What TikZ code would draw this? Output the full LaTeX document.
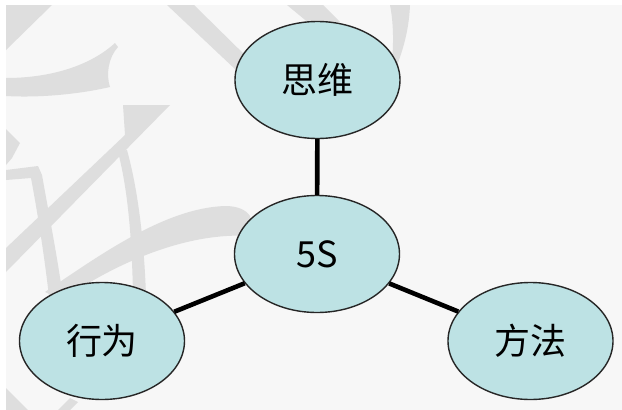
\documentclass[tikz,border=0pt]{standalone}
\usepackage{fontspec}
\setmainfont{Noto Sans CJK SC}
\usetikzlibrary{shapes.geometric}
\definecolor{bgc}{HTML}{F7F7F7}
\definecolor{strk}{HTML}{DEDEDE}
\definecolor{ellc}{HTML}{BDE2E4}
\begin{document}
\begin{tikzpicture}[x=1pt,y=-1pt,
  bub/.style={ellipse, draw=black!85, line width=1.4pt, fill=ellc,
    minimum width=165pt, minimum height=117pt, inner sep=0pt,
    font=\fontsize{36}{40}\selectfont},
  link/.style={line width=4.6pt, draw=black},
  brush/.style={fill=strk}]
\useasboundingbox (0,0) rectangle (622,410);
\fill[white] (0,0) rectangle (622,410);
\fill[bgc] (6,5) rectangle (622,410);
\begin{scope}
\clip (6,5) rectangle (622,410);
\fill[brush] (6,5) -- (52,5) -- (6,50) -- cycle;
\fill[brush] (6,78) .. controls (50,78) and (90,66) .. (115,43) -- (118,47) .. controls (108,58) and (106,75) .. (110,87) .. controls (80,94) and (40,98) .. (6,96) -- cycle;
\fill[brush] (123,105) -- (170,105) -- (6,272) -- (6,248) -- (125,135) -- cycle;
\fill[brush] (6,129) -- (20,143) -- (12,158) -- (6,165) -- cycle;
\fill[brush] (6,170) -- (38,166) -- (42,175) .. controls (50,220) and (58,260) .. (64,305) -- (50,305) .. controls (45,260) and (38,215) .. (31,178) -- (6,180) -- cycle;
\fill[brush] (118,152) -- (127,150) .. controls (138,190) and (144,240) .. (146,295) -- (133,295) .. controls (132,240) and (128,190) .. (118,152) -- cycle;
\fill[brush] (45,292) .. controls (100,255) and (165,208) .. (225,206) .. controls (238,206) and (246,210) .. (250,216) -- (250,236) .. controls (190,232) and (120,260) .. (62,300) -- cycle;
\fill[brush] (167,5) -- (194,5) -- (252,62) -- (236,70) -- cycle;
\fill[brush] (287,5) -- (323,5) -- (340,22) -- (310,24) -- cycle;
\fill[brush] (390,5) -- (410,5) .. controls (409,30) and (403,50) .. (396,68) -- (392,60) .. controls (394,40) and (393,20) .. (390,5) -- cycle;
\fill[brush] (6,388) -- (28,410) -- (6,410) -- cycle;
\fill[brush] (58,410) -- (70,398) -- (78,402) -- (70,410) -- cycle;
\end{scope}
\node[bub] (top) at (317.5,80) {思维};
\node[bub] (mid) at (317,254) {5S};
\node[bub] (left) at (102,341) {行为};
\node[bub] (right) at (530.5,341) {方法};
\draw[link] (top) -- (mid);
\draw[link] (mid) -- (left);
\draw[link] (mid) -- (right);
\end{tikzpicture}
\end{document}
